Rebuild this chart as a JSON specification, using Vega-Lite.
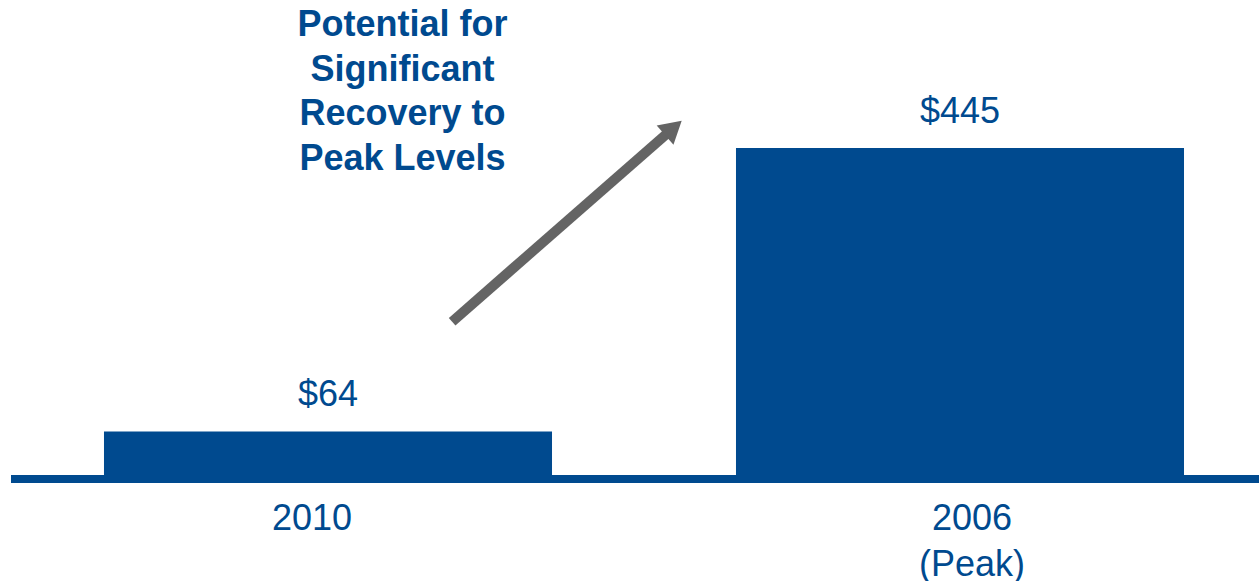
{
  "$schema": "https://vega.github.io/schema/vega-lite/v6.json",
  "width": 1259,
  "height": 479,
  "autosize": {"type": "none"},
  "padding": {"left": 0, "top": 0, "right": 0, "bottom": 102},
  "background": "white",
  "config": {"view": {"stroke": null}, "font": "Liberation Sans"},
  "datasets": {
    "bars": [
      {"year": "2010", "value": 64, "label": "$64"},
      {"year": "2006", "value": 445, "label": "$445"}
    ],
    "baseline": [{"u1": -0.5008, "u2": 1.4739, "v": 0}],
    "arrow": [{"u1": 0.1972, "v1": 211.5, "u2": 0.5473, "v2": 472}],
    "note": [{"u": 0.1187, "v": 595.6, "text": ["Potential for", "Significant", "Recovery to", "Peak Levels"]}]
  },
  "layer": [
    {
      "data": {"name": "bars"},
      "encoding": {
        "x": {
          "field": "year", "type": "nominal",
          "scale": {"domain": ["2010", "2006"], "paddingInner": 0.2911, "paddingOuter": 0.1416, "align": 0.581},
          "axis": {
            "title": null, "domain": false, "ticks": false, "labelAngle": 0,
            "labelFontSize": 36, "labelColor": "#004A8F", "labelFont": "Liberation Sans",
            "labelPadding": 22, "labelLineHeight": 46,
            "labelOffset": {"condition": {"test": "datum.value == '2010'", "value": -16}, "value": 12},
            "labelExpr": "datum.value == '2006' ? ['2006', '(Peak)'] : datum.value"
          }
        },
        "y": {"field": "value", "type": "quantitative", "scale": {"domain": [0, 644], "nice": false}, "axis": null}
      },
      "layer": [
        {"mark": {"type": "bar", "color": "#004A8F"}},
        {"mark": {"type": "text", "fontSize": 36, "color": "#004A8F", "baseline": "alphabetic", "align": "center", "dy": -25}, "encoding": {"text": {"field": "label"}}}
      ]
    },
    {
      "layer": [
        {
          "data": {"name": "baseline"},
          "mark": {"type": "rule", "color": "#004A8F", "strokeWidth": 8},
          "encoding": {
            "x": {"field": "u1", "type": "quantitative", "scale": {"domain": [-0.5182, 1.4739], "nice": false, "zero": false}, "axis": null},
            "x2": {"field": "u2"},
            "y": {"field": "v", "type": "quantitative", "scale": {"domain": [0, 644], "nice": false}, "axis": null}
          }
        },
        {
          "data": {"name": "arrow"},
          "mark": {"type": "rule", "color": "#646464", "strokeWidth": 10},
          "encoding": {
            "x": {"field": "u1", "type": "quantitative", "scale": {"domain": [-0.5182, 1.4739], "nice": false, "zero": false}, "axis": null},
            "x2": {"field": "u2"},
            "y": {"field": "v1", "type": "quantitative", "scale": {"domain": [0, 644], "nice": false}, "axis": null},
            "y2": {"field": "v2"}
          }
        },
        {
          "data": {"name": "arrow"},
          "mark": {"type": "point", "shape": "triangle-up", "filled": true, "color": "#646464", "opacity": 1, "size": 650, "angle": 48.85},
          "encoding": {
            "x": {"field": "u2", "type": "quantitative", "scale": {"domain": [-0.5182, 1.4739], "nice": false, "zero": false}, "axis": null},
            "y": {"field": "v2", "type": "quantitative", "scale": {"domain": [0, 644], "nice": false}, "axis": null}
          }
        },
        {
          "data": {"name": "note"},
          "mark": {"type": "text", "fontSize": 36, "fontWeight": "bold", "color": "#004A8F", "align": "center", "baseline": "alphabetic", "lineHeight": 44.7},
          "encoding": {
            "x": {"field": "u", "type": "quantitative", "scale": {"domain": [-0.5182, 1.4739], "nice": false, "zero": false}, "axis": null},
            "y": {"field": "v", "type": "quantitative", "scale": {"domain": [0, 644], "nice": false}, "axis": null},
            "text": {"field": "text"}
          }
        }
      ]
    }
  ],
  "resolve": {"scale": {"x": "independent"}}
}
